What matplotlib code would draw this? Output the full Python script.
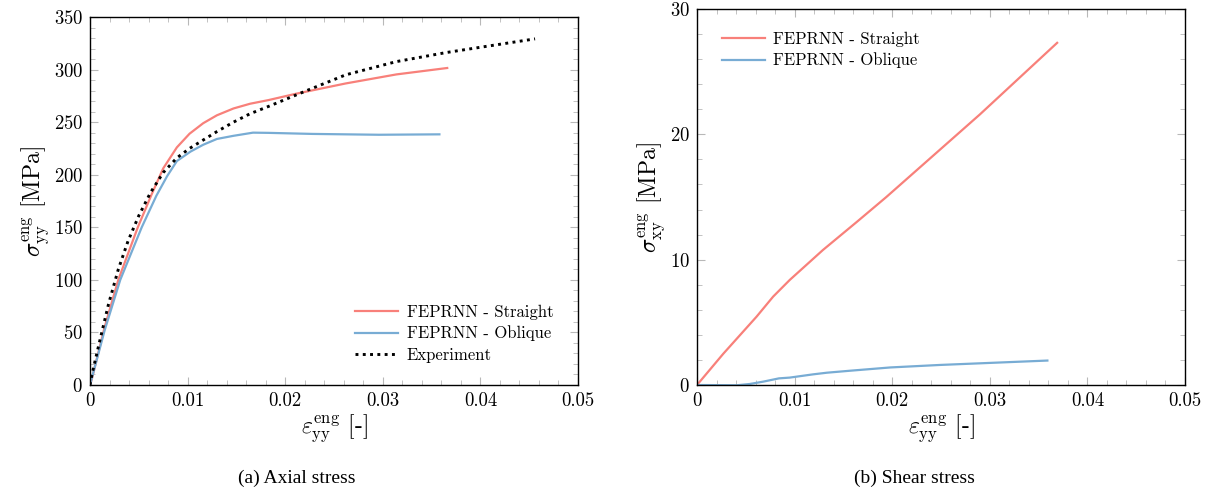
import numpy as np
import matplotlib
matplotlib.use("Agg")
import matplotlib.pyplot as plt
from matplotlib.ticker import MultipleLocator, FuncFormatter

plt.rcParams['font.family'] = 'cmr10'
plt.rcParams['mathtext.fontset'] = 'cm'
plt.rcParams['axes.formatter.use_mathtext'] = True

RED = '#f8807a'
BLUE = '#78acd4'

# (a) axial stress
ax_straight_x = [0, 0.00017, 0.0015, 0.0029, 0.0049, 0.0063, 0.0075, 0.0089, 0.0102,
                 0.0116, 0.013, 0.0147, 0.0164, 0.0183, 0.0211, 0.0262, 0.0314, 0.0366]
ax_straight_y = [0, 5, 55, 100, 150, 181, 206, 226, 239,
                 249, 256.5, 263, 267.5, 271, 277, 286.8, 295.4, 301.5]
ax_oblique_x = [0, 0.0015, 0.0031, 0.0053, 0.006, 0.0068, 0.0079, 0.0089, 0.0103,
                0.0116, 0.013, 0.0147, 0.0167, 0.0183, 0.0228, 0.0296, 0.0358]
ax_oblique_y = [0, 52, 100, 150, 164, 180, 198.6, 213, 222,
                228.5, 234, 237, 240, 239.8, 238.8, 238, 238.4]
exp_x = [0, 0.0002, 0.0009, 0.0019, 0.0029, 0.0039, 0.005, 0.0062, 0.0075, 0.0089,
         0.0102, 0.0116, 0.013, 0.0147, 0.0164, 0.0183, 0.0222, 0.0262, 0.0314, 0.0365,
         0.0416, 0.0456]
exp_y = [0, 10, 38, 77, 110, 137, 161, 183, 202, 216,
         225, 233, 241, 250, 258, 265, 280, 295, 307.6, 316.2,
         323.5, 329.2]

# (b) shear stress
sh_straight_x = [0, 0.0027, 0.0061, 0.0078, 0.0095, 0.0129, 0.0164, 0.0194, 0.029, 0.0369]
sh_straight_y = [0, 2.5, 5.45, 7.05, 8.38, 10.77, 13.03, 15.0, 21.6, 27.3]
sh_oblique_x = [0, 0.0041, 0.0054, 0.0068, 0.0084, 0.0095, 0.0119, 0.0133, 0.0157,
                0.0198, 0.0249, 0.0359]
sh_oblique_y = [0, -0.02, 0.08, 0.27, 0.53, 0.59, 0.85, 0.98, 1.14,
                1.4, 1.6, 1.95]

xticks = [0, 0.01, 0.02, 0.03, 0.04, 0.05]
fmt = FuncFormatter(lambda v, p: f'{v:g}')

fig = plt.figure(figsize=(12.23, 4.92), dpi=100)
ax1 = fig.add_axes([90/1223, 107/492, 488/1223, 368/492])
ax2 = fig.add_axes([697/1223, 107/492, 488/1223, 376/492])


def style(ax, ymax, ymaj, ymin):
    ax.set_xlim(0, 0.05)
    ax.set_ylim(0, ymax)
    ax.set_xticks(xticks)
    ax.xaxis.set_major_formatter(fmt)
    ax.xaxis.set_minor_locator(MultipleLocator(0.002))
    ax.yaxis.set_major_locator(MultipleLocator(ymaj))
    ax.yaxis.set_minor_locator(MultipleLocator(ymin))
    ax.tick_params(which='both', direction='in', top=True, right=True,
                   color='#b8b8b8', labelsize=13.5, pad=5)
    ax.tick_params(which='major', length=6, width=0.8)
    ax.tick_params(which='minor', length=3.5, width=0.6)
    for s in ax.spines.values():
        s.set_linewidth(1.0)
    ax.set_xlabel(r'$\varepsilon_{\mathrm{yy}}^{\mathrm{eng}}$ [-]', fontsize=17, labelpad=2)


ax1.plot(ax_straight_x, ax_straight_y, color=RED, lw=1.6, label='FEPRNN - Straight')
ax1.plot(ax_oblique_x, ax_oblique_y, color=BLUE, lw=1.6, label='FEPRNN - Oblique')
ax1.plot(exp_x, exp_y, color='black', lw=2.1, linestyle=(0, (1, 1.5)), label='Experiment')
style(ax1, 350, 50, 10)
ax1.set_ylabel(r'$\sigma_{\mathrm{yy}}^{\mathrm{eng}}$ [MPa]', fontsize=17, labelpad=2)
ax1.legend(loc='lower right', bbox_to_anchor=(0.98, 0.02), frameon=False, fontsize=12,
           handlelength=2.6, handletextpad=0.5, labelspacing=0.35)

ax2.plot(sh_straight_x, sh_straight_y, color=RED, lw=1.6, label='FEPRNN - Straight')
ax2.plot(sh_oblique_x, sh_oblique_y, color=BLUE, lw=1.6, label='FEPRNN - Oblique')
style(ax2, 30, 10, 2)
ax2.set_ylabel(r'$\sigma_{\mathrm{xy}}^{\mathrm{eng}}$ [MPa]', fontsize=17, labelpad=2)
ax2.legend(loc='upper left', bbox_to_anchor=(0.02, 0.98), frameon=False, fontsize=12,
           handlelength=2.6, handletextpad=0.5, labelspacing=0.35)

fig.text(297/1223, 1 - 478/492, '(a) Axial stress', ha='center', va='center',
         fontsize=14, family='Liberation Serif')
fig.text(914/1223, 1 - 478/492, '(b) Shear stress', ha='center', va='center',
         fontsize=14, family='Liberation Serif')

fig.savefig('out.png', dpi=100)
